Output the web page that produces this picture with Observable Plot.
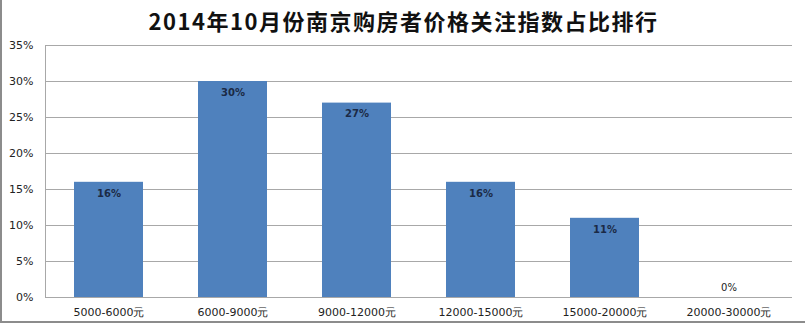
<!DOCTYPE html>
<html><head><meta charset="utf-8">
<script src="https://cdn.jsdelivr.net/npm/d3@7"></script>
<script src="https://cdn.jsdelivr.net/npm/@observablehq/plot@0.6"></script>
<style>
html,body{margin:0;padding:0;background:#fff;}
#wrap{position:relative;width:803px;height:321px;border-left:2px solid #8c8c8c;border-bottom:2px solid #8c8c8c;background:#fff;overflow:hidden;}
#title{height:38px;line-height:40px;text-align:center;font-family:"Noto Sans CJK SC","DejaVu Sans",sans-serif;font-weight:bold;font-size:22px;color:#111;letter-spacing:1.5px;}
#chart svg{display:block;}
</style></head>
<body><div id="wrap"><div id="title">2014年10月份南京购房者价格关注指数占比排行</div><div id="chart"></div></div>
<script>
const categories = ["5000-6000元","6000-9000元","9000-12000元","12000-15000元","15000-20000元","20000-30000元"];
const values = [16, 30, 27, 16, 11, 0];
const yTicks = [0, 5, 10, 15, 20, 25, 30, 35];

const data = categories.map((c, i) => ({cat: c, v: values[i]}));

const chart = Plot.plot({
  width: 803, height: 284,
  marginLeft: 43, marginRight: 13, marginTop: 7, marginBottom: 25,
  style: {fontFamily: "'DejaVu Sans', Verdana, sans-serif", fontSize: "11px", color: "#222", background: "#fff"},
  x: {domain: categories, paddingInner: 0.44, paddingOuter: 0.22, label: null},
  y: {domain: [0, 35], ticks: yTicks, label: null},
  marks: [
    Plot.gridY(yTicks, {stroke: "#a8a8a8", strokeOpacity: 1, strokeWidth: 1}),
    Plot.barY(data, {x: "cat", y: "v", fill: "#4f81bd"}),
    Plot.frame({anchor: "left", stroke: "#a8a8a8"}),
    Plot.axisY({ticks: yTicks, tickSize: 0, tickPadding: 12, tickFormat: d => d + "%", fontSize: 11, fill: "#222"}),
    Plot.axisX({tickSize: 0, tickPadding: 11, fontSize: 11, fill: "#222"}),
    Plot.text(data.filter(d => d.v > 0), {x: "cat", y: "v", text: d => d.v + "%", dy: 11, fill: "#1b2a45", fontWeight: "bold", fontSize: 10}),
    Plot.text(data.filter(d => d.v === 0), {x: "cat", y: "v", text: d => d.v + "%", dy: -10, fill: "#222", fontSize: 10})
  ]
});
document.getElementById("chart").appendChild(chart);
</script></body></html>
